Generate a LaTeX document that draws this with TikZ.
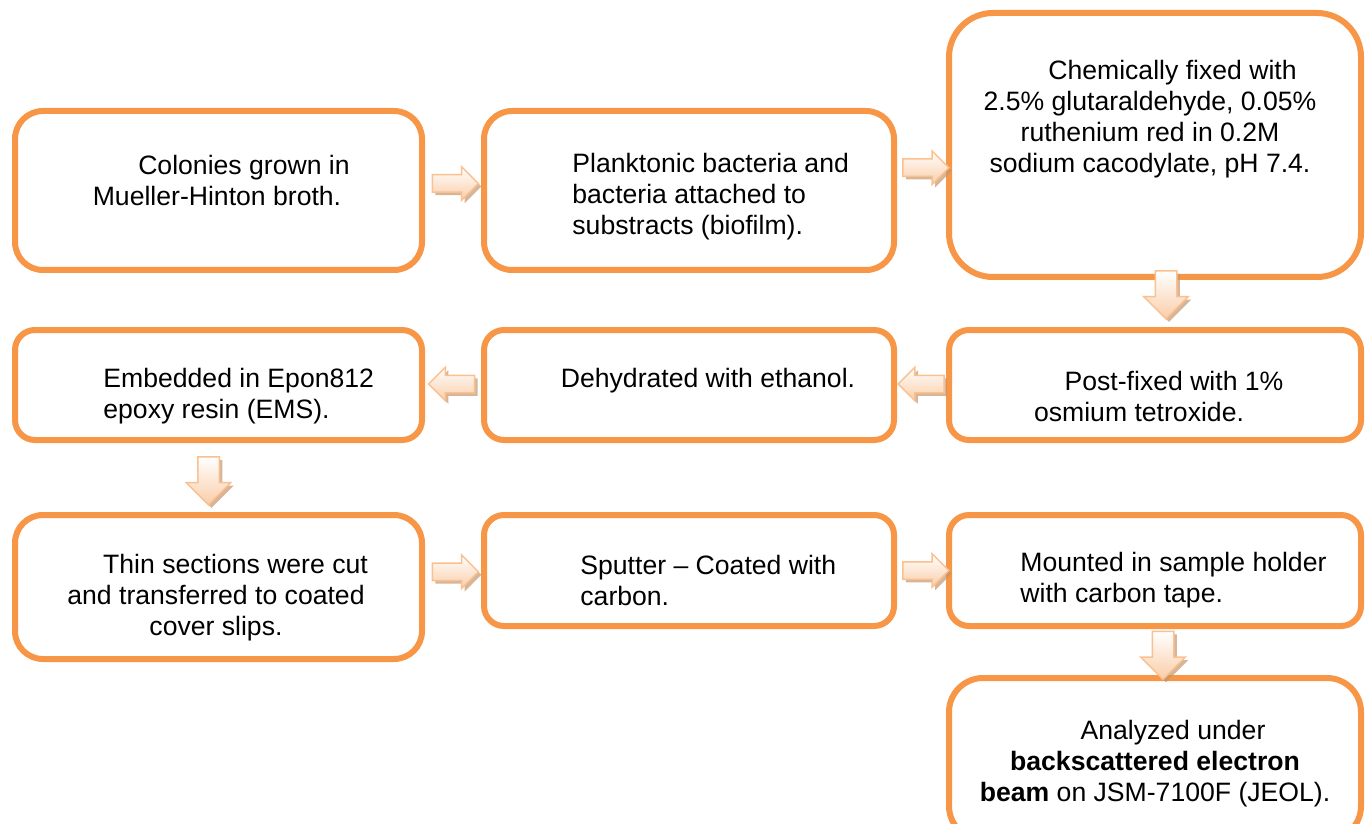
\documentclass[tikz,border=0pt]{standalone}
\usepackage{fontspec}
\setmainfont{Liberation Sans}
\usetikzlibrary{shapes.arrows}
\usetikzlibrary{shadows}
\usetikzlibrary{calc}
\definecolor{boxorange}{RGB}{247,150,70}
\definecolor{arrowline}{RGB}{250,192,143}
\definecolor{arrowpeach}{RGB}{250,205,168}
\definecolor{arrowshadow}{RGB}{196,150,110}
\begin{document}
\begin{tikzpicture}[x=0.5pt,y=-0.5pt]
	\tikzstyle{stepbox}=[draw=boxorange, line width=3pt, rounded corners=14pt, fill=white]
	\tikzstyle{steptext}=[font=\fontsize{13.3}{15.5}\selectfont, inner sep=0pt]
	\tikzstyle{blockarrow}=[single arrow, draw=arrowline, line width=0.75pt, inner xsep=0pt, top color=white, bottom color=arrowpeach, drop shadow={shadow xshift=1.5pt, shadow yshift=-1.5pt, fill=arrowshadow, opacity=0.7}]
	\tikzstyle{sidearrow}=[blockarrow, minimum height=23pt, inner ysep=4pt, single arrow head extend=4pt]
	\tikzstyle{downarrow}=[blockarrow, minimum height=24pt, inner ysep=5pt, single arrow head extend=5.75pt, rotate=-90]

	\useasboundingbox (0,0) rectangle (1368,823);
	\clip (0,0) rectangle (1368,823);

	\node[stepbox, minimum width=203.5pt, minimum height=79.5pt] (b1) at (218.5,190.5) {};
	\node[stepbox, minimum width=205pt, minimum height=79.5pt] (b2) at (689,190.5) {};
	\node[stepbox, minimum width=206pt, minimum height=132pt, rounded corners=22pt] (b3) at (1155,145) {};
	\node[stepbox, minimum width=206pt, minimum height=55pt, rounded corners=10pt] (b4) at (1155,385) {};
	\node[stepbox, minimum width=205pt, minimum height=55pt, rounded corners=10pt] (b5) at (689,385) {};
	\node[stepbox, minimum width=203.5pt, minimum height=55pt, rounded corners=10pt] (b6) at (218.5,385) {};
	\node[stepbox, minimum width=203.5pt, minimum height=72pt] (b7) at (218.5,587) {};
	\node[stepbox, minimum width=205pt, minimum height=55.5pt, rounded corners=10pt] (b8) at (689,570.5) {};
	\node[stepbox, minimum width=206pt, minimum height=55.5pt, rounded corners=10pt] (b9) at (1155,570.5) {};
	\node[stepbox, minimum width=206pt, minimum height=81pt, rounded corners=17pt] (b10) at (1155,759) {};

	\node[steptext, align=center] (t1) at (217,180) {\hspace*{27pt}Colonies grown in\\Mueller-Hinton broth.};
	\node[steptext, align=left, anchor=west] (t2) at (572,197) {Planktonic bacteria and\\ bacteria attached to\\ substracts (biofilm).};
	\node[steptext, align=center] (t3) at (1150,119.5) {\hspace*{22.5pt}Chemically fixed with\\2.5\% glutaraldehyde, 0.05\%\\ruthenium red in 0.2M\\sodium cacodylate, pH 7.4.};
	\node[steptext, align=center] (t4) at (1139,396.5) {\hspace*{35pt}Post-fixed with 1\%\\osmium tetroxide.};
	\node[steptext] (t5) at (708,381) {Dehydrated with ethanol.};
	\node[steptext, align=left, anchor=west] (t6) at (103,396.5) {Embedded in Epon812\\ epoxy resin (EMS).};
	\node[steptext, align=center] (t7) at (216,598) {\hspace*{19.5pt}Thin sections were cut\\and transferred to coated\\cover slips.};
	\node[steptext, align=left, anchor=west] (t8) at (580,580) {Sputter -- Coated with\\carbon.};
	\node[steptext, align=left, anchor=west] (t9) at (1020,580) {Mounted in sample holder\\with carbon tape.};
	\node[steptext, align=center] (t10) at (1155,764) {\hspace*{18pt}Analyzed under\\\textbf{backscattered electron}\\\textbf{beam} on JSM-7100F (JEOL).};

	\node[sidearrow] (a1) at ($(b1.east)!.5!(b2.west)+(-2,-7)$) {};
	\node[sidearrow] (a2) at ($(b2.east)!.5!(b3.west)+(0,0)$) {};
	\node[downarrow] (a3) at ($(b3.south)!.5!(b4.north)+(11,-14)$) {};
	\node[sidearrow, rotate=180] (a4) at ($(b4.west)!.5!(b5.east)+(4,-1)$) {};
	\node[sidearrow, rotate=180] (a5) at ($(b5.west)!.5!(b6.east)+(3,-1)$) {};
	\node[downarrow] (a6) at ($(b6.south)!.5!(b7.north)+(-10,-2)$) {};
	\node[sidearrow] (a7) at ($(b7.east)!.5!(b8.west)+(-2,-7)$) {};
	\node[sidearrow] (a8) at ($(b8.east)!.5!(b9.west)+(0,0)$) {};
	\node[downarrow] (a9) at ($(b9.south)!.5!(b10.north)+(8,-2)$) {};
\end{tikzpicture}
\end{document}
